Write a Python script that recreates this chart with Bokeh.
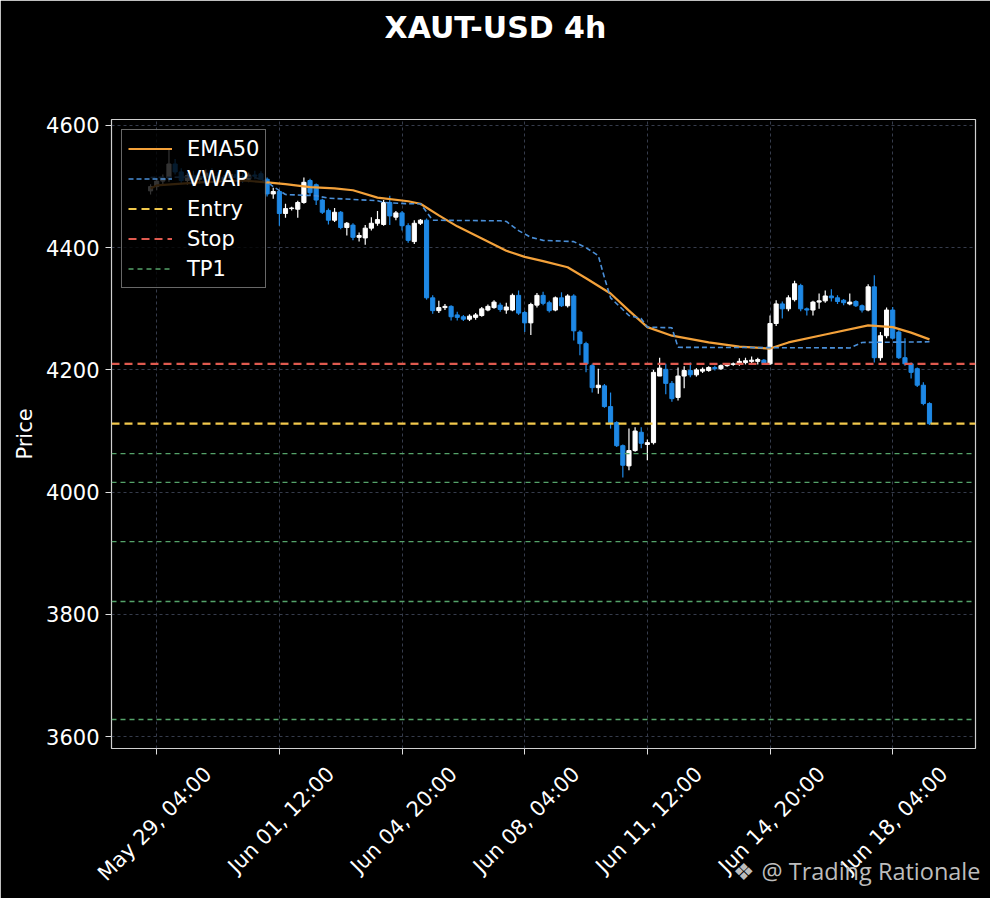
import numpy as np
import pandas as pd
from bokeh.plotting import figure
from bokeh.models import Range1d, FixedTicker, LinearAxis, Title
from bokeh.embed import file_html
from bokeh.resources import INLINE

# ---------------- data ----------------
title_text = "XAUT-USD 4h"
watermark_text = "❖ @ Trading Rationale"
start_time = "2026-05-29 00:00"

opens = [4493, 4500, 4509, 4514, 4537, 4524, 4510, 4518, 4512, 4516,
         4522, 4517, 4511, 4515, 4520, 4516, 4512, 4519, 4521, 4512,
         4488, 4492, 4456, 4464, 4463, 4474, 4510, 4503, 4478, 4461,
         4445, 4458, 4433, 4437, 4417, 4416, 4432, 4440, 4438, 4474,
         4450, 4457, 4436, 4410, 4440, 4445, 4318, 4297, 4302, 4304,
         4290, 4287, 4283, 4286, 4289, 4298, 4302, 4306, 4298, 4298,
         4322, 4294, 4277, 4306, 4322, 4310, 4298, 4318, 4305, 4321,
         4262, 4243, 4207, 4171, 4174, 4140, 4114, 4076, 4043, 4068,
         4098, 4078, 4081, 4190, 4201, 4178, 4155, 4190, 4199, 4192,
         4198, 4199, 4204, 4202, 4207, 4209, 4209, 4212, 4214, 4214,
         4216, 4210, 4276, 4308, 4300, 4315, 4338, 4300, 4298, 4311,
         4313, 4321, 4318, 4314, 4308, 4312, 4305, 4298, 4336, 4220,
         4256, 4298, 4262, 4220, 4210, 4202, 4175, 4145]
highs = [4504, 4512, 4520, 4560, 4545, 4530, 4522, 4526, 4520, 4528,
         4530, 4524, 4519, 4525, 4527, 4522, 4523, 4526, 4525, 4515,
         4498, 4494, 4472, 4467, 4477, 4515, 4513, 4505, 4480, 4464,
         4465, 4460, 4442, 4440, 4425, 4437, 4450, 4460, 4478, 4485,
         4460, 4460, 4440, 4445, 4447, 4448, 4322, 4313, 4308, 4306,
         4295, 4290, 4291, 4293, 4303, 4307, 4314, 4310, 4310, 4325,
         4330, 4297, 4310, 4326, 4328, 4313, 4320, 4327, 4324, 4324,
         4265, 4246, 4210, 4202, 4177, 4163, 4116, 4078, 4104, 4106,
         4106, 4086, 4200, 4220, 4210, 4182, 4204, 4206, 4212, 4203,
         4204, 4206, 4207, 4209, 4211, 4212, 4219, 4220, 4222, 4220,
         4218, 4289, 4314, 4312, 4322, 4346, 4341, 4302, 4313, 4325,
         4330, 4332, 4322, 4316, 4325, 4314, 4307, 4340, 4355, 4262,
         4302, 4303, 4265, 4252, 4212, 4204, 4180, 4147]
lows = [4487, 4494, 4503, 4508, 4520, 4506, 4503, 4509, 4505, 4510,
        4513, 4508, 4502, 4509, 4512, 4506, 4507, 4512, 4510, 4484,
        4480, 4436, 4449, 4461, 4449, 4472, 4486, 4470, 4455, 4438,
        4442, 4430, 4420, 4412, 4410, 4405, 4428, 4436, 4436, 4437,
        4445, 4428, 4408, 4406, 4437, 4315, 4292, 4293, 4298, 4281,
        4281, 4280, 4280, 4282, 4287, 4296, 4300, 4295, 4292, 4296,
        4290, 4262, 4257, 4302, 4306, 4294, 4296, 4303, 4302, 4248,
        4224, 4196, 4163, 4161, 4138, 4104, 4074, 4024, 4036, 4066,
        4072, 4052, 4078, 4190, 4160, 4148, 4150, 4170, 4188, 4189,
        4195, 4197, 4199, 4200, 4205, 4207, 4207, 4209, 4210, 4209,
        4208, 4208, 4272, 4284, 4296, 4312, 4296, 4289, 4289, 4300,
        4310, 4312, 4308, 4306, 4306, 4303, 4294, 4296, 4212, 4215,
        4252, 4250, 4218, 4207, 4186, 4172, 4142, 4110]
closes = [4500, 4509, 4514, 4537, 4524, 4510, 4518, 4512, 4516, 4522,
          4517, 4511, 4515, 4520, 4516, 4512, 4519, 4517, 4512, 4488,
          4492, 4456, 4464, 4465, 4474, 4507, 4490, 4478, 4458, 4445,
          4458, 4433, 4440, 4417, 4420, 4432, 4440, 4446, 4474, 4452,
          4457, 4436, 4412, 4440, 4445, 4318, 4297, 4302, 4304, 4287,
          4286, 4283, 4288, 4290, 4300, 4304, 4311, 4299, 4303, 4322,
          4293, 4277, 4307, 4322, 4309, 4297, 4318, 4305, 4321, 4264,
          4243, 4210, 4171, 4175, 4140, 4114, 4076, 4044, 4068, 4100,
          4080, 4081, 4196, 4203, 4178, 4153, 4190, 4199, 4192, 4200,
          4201, 4204, 4202, 4207, 4209, 4210, 4214, 4215, 4216, 4217,
          4211, 4276, 4308, 4300, 4318, 4341, 4300, 4298, 4311, 4313,
          4321, 4318, 4312, 4310, 4311, 4305, 4298, 4336, 4220, 4256,
          4298, 4252, 4220, 4210, 4196, 4175, 4145, 4112]

# EMA50 and VWAP at candle indices
ema_idx = [0, 1, 8, 15, 19, 22, 26, 30, 33, 37, 42, 44, 47, 50, 54, 58, 61,
           64, 68, 71, 75, 78, 81, 85, 91, 96, 101, 104, 110, 117, 121, 124, 127]
ema_val = [4497, 4502, 4507, 4510, 4507, 4504, 4499, 4497, 4494, 4482, 4476,
           4472, 4453, 4435, 4415, 4395, 4385, 4378, 4368, 4350, 4325, 4297,
           4270, 4256, 4245, 4238, 4235, 4245, 4258, 4273, 4270, 4261, 4250]
vwap_idx = [0, 10, 17, 19, 20, 22, 27, 29, 37, 38, 42, 44, 46, 57, 58, 60, 62,
            64, 69, 71, 73, 74, 75, 78, 80, 81, 85, 86, 114, 116, 127]
vwap_val = [4515, 4516, 4515, 4508, 4500, 4487, 4485, 4481, 4477, 4474, 4472,
            4472, 4445, 4444, 4443, 4428, 4417, 4412, 4410, 4400, 4387, 4351,
            4318, 4289, 4284, 4270, 4269, 4237, 4236, 4245, 4246]

entry_price = 4112
stop_price = 4210
tp_prices = [4063, 4016, 3919, 3821, 3628]

x_tick_times = ["2026-05-29 04:00", "2026-06-01 12:00", "2026-06-04 20:00",
                "2026-06-08 04:00", "2026-06-11 12:00", "2026-06-14 20:00",
                "2026-06-18 04:00"]
x_tick_labels = ["May 29, 04:00", "Jun 01, 12:00", "Jun 04, 20:00",
                 "Jun 08, 04:00", "Jun 11, 12:00", "Jun 14, 20:00",
                 "Jun 18, 04:00"]
y_ticks = [3600, 3800, 4000, 4200, 4400, 4600]

# ---------------- styling ----------------
UP = "#ffffff"
DOWN = "#1e88e5"
FONT = "DejaVu Sans"
FS = "21px"
HOUR = 3600 * 1000.0

times = pd.date_range(start_time, periods=len(closes), freq="4h")
t_ms = np.array([t.value / 1e6 for t in times])
t0 = t_ms[0]
x_start = t0 - 25.48 * HOUR
x_end = t0 + 538.0 * HOUR

p = figure(width=990, height=898, x_axis_type="datetime",
           x_range=Range1d(x_start, x_end), y_range=Range1d(3580.5, 4609.8),
           output_backend="svg", toolbar_location=None, title=None,
           min_border_left=111, min_border_right=15, min_border_top=119,
           min_border_bottom=150)
p.background_fill_color = "black"
p.border_fill_color = "black"
p.outline_line_color = "#d0d0d0"
p.outline_line_width = 1.2

o = np.array(opens); c = np.array(closes)
colors = [UP if cc >= oo else DOWN for oo, cc in zip(opens, closes)]
p.segment(x0=t_ms, y0=lows, x1=t_ms, y1=highs, color=colors, line_width=1.2)
p.vbar(x=t_ms, width=2.7 * HOUR, top=np.maximum(o, c), bottom=np.minimum(o, c),
       fill_color=colors, line_color=colors, line_width=1)

p.line(t_ms[ema_idx], ema_val, color="#f3a13a", line_width=2.2, legend_label="EMA50")
p.line(t_ms[vwap_idx], vwap_val, color="#4a8fd8", line_width=1.6,
       line_dash="5 3", legend_label="VWAP")
xs = [x_start, x_end]
p.line(xs, [entry_price] * 2, color="#f2c94c", line_width=2.2, line_dash="8 5",
       legend_label="Entry")
p.line(xs, [stop_price] * 2, color="#e05a4f", line_width=2.2, line_dash="8 5",
       legend_label="Stop")
for k, tp in enumerate(tp_prices):
    kw = {"legend_label": "TP1"} if k == 0 else {}
    p.line(xs, [tp] * 2, color="#55a36a", line_width=1.4, line_dash="5 4", **kw)

# ---- x axis: tick marks (axis A) + rotated labels centred on ticks (axis B)
tick_ms = [pd.Timestamp(t).value / 1e6 for t in x_tick_times]
xa = p.xaxis[0]
xa.ticker = FixedTicker(ticks=tick_ms)
xa.major_label_text_font_size = "1px"
xa.major_label_text_color = None
xa.major_label_standoff = 0
xa.major_tick_out = 6
xa.major_tick_in = 0
xa.minor_tick_line_color = None
xa.axis_line_color = None
xa.major_tick_line_color = "#e0e0e0"

shift = 33.5 * HOUR
lab_ticks = [t + shift for t in tick_ms]
xb = LinearAxis(ticker=FixedTicker(ticks=lab_ticks),
                major_label_overrides={t: l for t, l in zip(lab_ticks, x_tick_labels)})
xb.major_label_orientation = np.pi / 4
xb.major_tick_out = 0
xb.major_tick_in = 0
xb.major_tick_line_color = None
xb.minor_tick_line_color = None
xb.axis_line_color = None
xb.major_label_standoff = 16
xb.major_label_text_color = "white"
xb.major_label_text_font = FONT
xb.major_label_text_font_size = FS
p.add_layout(xb, "below")

# watermark, right-aligned at the bottom, pulled up into the label band
wm = Title(text=watermark_text, text_color="#bdbdbd", text_font="Open Sans",
           text_font_size="23.5px", text_font_style="normal", align="right",
           vertical_align="top")
try:
    wm.standoff = -86
except Exception:
    wm.standoff = 0
try:
    wm.offset = -5
except Exception:
    wm.offset = 0
p.add_layout(wm, "below")

# ---- y axis
ya = p.yaxis[0]
ya.ticker = FixedTicker(ticks=y_ticks)
ya.major_tick_out = 6
ya.major_tick_in = 0
ya.minor_tick_line_color = None
ya.axis_line_color = None
ya.major_tick_line_color = "#e0e0e0"
ya.major_label_text_color = "white"
ya.major_label_text_font = FONT
ya.major_label_text_font_size = FS
ya.major_label_standoff = 6
ya.axis_label = "Price"
ya.axis_label_text_color = "white"
ya.axis_label_text_font = FONT
ya.axis_label_text_font_size = FS
ya.axis_label_text_font_style = "normal"
ya.axis_label_standoff = 6

for g, tk in ((p.xgrid[0], tick_ms), (p.ygrid[0], y_ticks)):
    g.ticker = FixedTicker(ticks=tk)
    g.grid_line_color = "#363c4c"
    g.grid_line_dash = "3 3"
    g.grid_line_width = 1

# ---- title: invisible spacer axis right above the frame, title further out
spacer = LinearAxis(ticker=FixedTicker(ticks=[tick_ms[0]]), major_tick_out=66,
                    major_tick_in=0, axis_line_color=None,
                    major_tick_line_color=None, minor_tick_line_color=None,
                    major_label_text_color=None, major_label_text_font_size="1px",
                    major_label_standoff=0)
p.add_layout(spacer, "above")
p.add_layout(Title(text=title_text, text_color="white", text_font=FONT,
                   text_font_size="30px", text_font_style="bold",
                   align="left", offset=273, vertical_align="middle",
                   standoff=16), "above")

# ---- legend
lg = p.legend[0]
lg.location = "top_left"
lg.margin = 10
lg.padding = 6
lg.spacing = 5
lg.glyph_width = 44
lg.glyph_height = 25
lg.label_height = 25
lg.label_standoff = 15
lg.background_fill_color = "black"
lg.background_fill_alpha = 0.8
lg.border_line_color = "#d0d0d0"
lg.border_line_width = 1.2
lg.label_text_color = "white"
lg.label_text_font = FONT
lg.label_text_font_size = FS

open("out.html", "w").write(file_html(p, INLINE))
